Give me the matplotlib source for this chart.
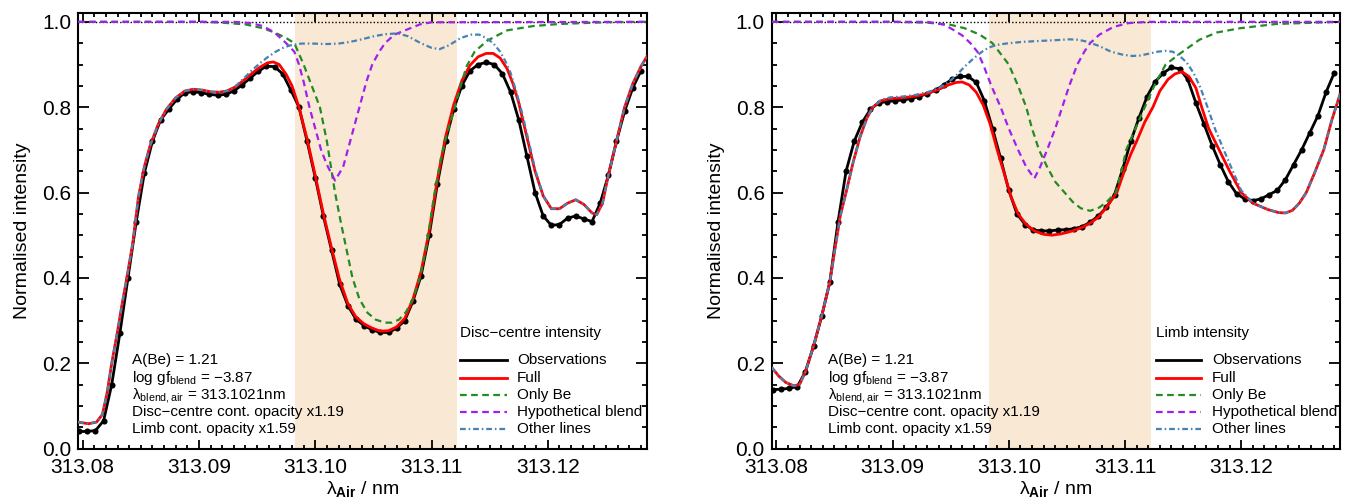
import numpy as np
import matplotlib
matplotlib.use("Agg")
import matplotlib.pyplot as plt
from matplotlib.ticker import MultipleLocator, FormatStrFormatter

plt.rcParams["font.family"] = ["Liberation Sans", "DejaVu Sans"]
plt.rcParams["mathtext.fontset"] = "custom"
plt.rcParams["mathtext.rm"] = "Liberation Sans"
plt.rcParams["mathtext.it"] = "Liberation Sans:italic"
plt.rcParams["mathtext.bf"] = "Liberation Sans:bold"

# ---------------- data ----------------
# observed spectra, sampled every 0.7 pm from 313.0797 nm
obs_wave = 313.0797 + 0.0007 * np.arange(70)
dc_obs = [0.040, 0.040, 0.042, 0.065, 0.150, 0.270, 0.400, 0.530, 0.645, 0.720,
          0.770, 0.795, 0.818, 0.834, 0.836, 0.834, 0.830, 0.828, 0.830, 0.838,
          0.852, 0.868, 0.884, 0.896, 0.895, 0.878, 0.840, 0.800, 0.720, 0.635,
          0.545, 0.465, 0.385, 0.335, 0.303, 0.288, 0.278, 0.272, 0.272, 0.282,
          0.300, 0.345, 0.405, 0.500, 0.620, 0.720, 0.795, 0.850, 0.885, 0.900,
          0.905, 0.900, 0.878, 0.835, 0.770, 0.685, 0.600, 0.545, 0.523, 0.525,
          0.540, 0.545, 0.538, 0.532, 0.575, 0.640, 0.720, 0.790, 0.845, 0.885]
limb_obs = [0.138, 0.139, 0.141, 0.145, 0.180, 0.240, 0.310, 0.390, 0.530, 0.650,
            0.720, 0.765, 0.795, 0.810, 0.813, 0.815, 0.817, 0.820, 0.825, 0.832,
            0.840, 0.852, 0.865, 0.872, 0.872, 0.858, 0.815, 0.750, 0.680, 0.605,
            0.550, 0.525, 0.512, 0.510, 0.510, 0.512, 0.513, 0.515, 0.520, 0.530,
            0.545, 0.565, 0.595, 0.655, 0.720, 0.775, 0.825, 0.860, 0.880, 0.893,
            0.890, 0.865, 0.810, 0.760, 0.710, 0.665, 0.625, 0.597, 0.585, 0.581,
            0.585, 0.595, 0.605, 0.630, 0.665, 0.700, 0.740, 0.780, 0.835, 0.880]

# disc-centre synthetic profiles
dc_full_wave = [313.0796, 313.0805, 313.0812, 313.0817, 313.0821, 313.0825, 313.0830, 313.0834,
                313.0838, 313.0843, 313.0848, 313.0853, 313.0858, 313.0865, 313.0872, 313.0880,
                313.0888, 313.0895, 313.0903, 313.0910, 313.0917, 313.0924, 313.0931, 313.0938,
                313.0945, 313.0952, 313.0959, 313.0964, 313.0969, 313.0975, 313.0980, 313.0986,
                313.0993, 313.1000, 313.1007, 313.1014, 313.1021, 313.1028, 313.1035, 313.1042,
                313.1049, 313.1056, 313.1063, 313.1070, 313.1077, 313.1084, 313.1091, 313.1098,
                313.1105, 313.1112, 313.1119, 313.1126, 313.1133, 313.1140, 313.1147, 313.1153,
                313.1159, 313.1165, 313.1170, 313.1175, 313.1182, 313.1189, 313.1196, 313.1203,
                313.1210, 313.1217, 313.1224, 313.1231, 313.1238, 313.1242, 313.1247, 313.1252,
                313.1259, 313.1266, 313.1273, 313.1280, 313.1285]
dc_full_int = [0.062, 0.058, 0.062, 0.080, 0.130, 0.200, 0.275, 0.340,
               0.400, 0.480, 0.590, 0.660, 0.710, 0.760, 0.795, 0.822,
               0.838, 0.842, 0.840, 0.836, 0.835, 0.838, 0.847, 0.862,
               0.878, 0.893, 0.904, 0.906, 0.900, 0.877, 0.850, 0.800,
               0.725, 0.640, 0.550, 0.470, 0.395, 0.340, 0.308, 0.292,
               0.282, 0.275, 0.276, 0.285, 0.305, 0.350, 0.415, 0.510,
               0.630, 0.730, 0.805, 0.862, 0.898, 0.918, 0.926, 0.926,
               0.915, 0.890, 0.855, 0.810, 0.730, 0.650, 0.592, 0.562,
               0.562, 0.575, 0.583, 0.572, 0.552, 0.548, 0.575, 0.640,
               0.720, 0.800, 0.855, 0.895, 0.918]

dc_other_wave = [313.0796, 313.0805, 313.0812, 313.0817, 313.0821, 313.0825, 313.0830, 313.0834,
                 313.0838, 313.0843, 313.0848, 313.0853, 313.0858, 313.0865, 313.0872, 313.0880,
                 313.0888, 313.0895, 313.0903, 313.0910, 313.0917, 313.0924, 313.0931, 313.0938,
                 313.0945, 313.0952, 313.0959, 313.0966, 313.0973, 313.0980, 313.0988, 313.0998,
                 313.1010, 313.1020, 313.1030, 313.1040, 313.1050, 313.1060, 313.1071, 313.1080,
                 313.1090, 313.1100, 313.1107, 313.1115, 313.1125, 313.1134, 313.1141, 313.1147,
                 313.1153, 313.1159, 313.1164, 313.1168, 313.1173, 313.1178, 313.1184, 313.1189,
                 313.1196, 313.1203, 313.1210, 313.1217, 313.1224, 313.1231, 313.1238, 313.1242,
                 313.1247, 313.1252, 313.1259, 313.1266, 313.1273, 313.1280, 313.1285]
dc_other_int = [0.062, 0.058, 0.062, 0.080, 0.130, 0.200, 0.275, 0.340,
                0.400, 0.480, 0.590, 0.660, 0.710, 0.760, 0.795, 0.822,
                0.838, 0.842, 0.840, 0.836, 0.835, 0.838, 0.848, 0.866,
                0.885, 0.902, 0.917, 0.930, 0.940, 0.946, 0.949, 0.949,
                0.948, 0.949, 0.953, 0.959, 0.966, 0.971, 0.973, 0.966,
                0.951, 0.939, 0.936, 0.945, 0.962, 0.970, 0.970, 0.962,
                0.950, 0.930, 0.905, 0.880, 0.835, 0.785, 0.715, 0.655,
                0.592, 0.562, 0.562, 0.575, 0.583, 0.572, 0.552, 0.548,
                0.575, 0.640, 0.720, 0.800, 0.855, 0.895, 0.918]

dc_be_wave = [313.0796, 313.0900, 313.0920, 313.0940, 313.0955, 313.0965, 313.0975, 313.0982,
              313.0990, 313.0997, 313.1004, 313.1010, 313.1017, 313.1022, 313.1027, 313.1032,
              313.1038, 313.1045, 313.1052, 313.1060, 313.1066, 313.1072, 313.1078, 313.1084,
              313.1090, 313.1096, 313.1102, 313.1108, 313.1114, 313.1119, 313.1125, 313.1130,
              313.1137, 313.1148, 313.1165, 313.1187, 313.1210, 313.1250, 313.1285]
dc_be_int = [1.000, 1.000, 0.998, 0.994, 0.985, 0.975, 0.962, 0.950,
             0.900, 0.850, 0.800, 0.720, 0.600, 0.530, 0.465, 0.400,
             0.350, 0.318, 0.302, 0.295, 0.295, 0.302, 0.320, 0.350,
             0.400, 0.480, 0.590, 0.680, 0.745, 0.790, 0.850, 0.895,
             0.930, 0.956, 0.980, 0.990, 0.995, 0.999, 1.000]

dc_blend_wave = [313.0796, 313.0930, 313.0945, 313.0955, 313.0965, 313.0975, 313.0982, 313.0986,
                 313.0990, 313.0995, 313.1000, 313.1005, 313.1010, 313.1017, 313.1024, 313.1028,
                 313.1033, 313.1038, 313.1044, 313.1049, 313.1055, 313.1060, 313.1068, 313.1079,
                 313.1090, 313.1100, 313.1285]
dc_blend_int = [1.000, 1.000, 0.997, 0.990, 0.975, 0.950, 0.930, 0.900,
                0.860, 0.800, 0.750, 0.700, 0.665, 0.628, 0.660, 0.700,
                0.750, 0.800, 0.860, 0.900, 0.930, 0.950, 0.970, 0.982,
                0.994, 0.999, 1.000]

# limb synthetic profiles
limb_full_wave = [313.0796, 313.0802, 313.0808, 313.0815, 313.0820, 313.0825, 313.0832, 313.0839,
                  313.0846, 313.0850, 313.0855, 313.0860, 313.0866, 313.0872, 313.0878, 313.0883,
                  313.0890, 313.0898, 313.0909, 313.0920, 313.0930, 313.0940, 313.0948, 313.0955,
                  313.0960, 313.0966, 313.0972, 313.0978, 313.0984, 313.0990, 313.0996, 313.1002,
                  313.1008, 313.1015, 313.1022, 313.1030, 313.1037, 313.1045, 313.1055, 313.1063,
                  313.1070, 313.1077, 313.1084, 313.1093, 313.1100, 313.1105, 313.1110, 313.1117,
                  313.1124, 313.1130, 313.1137, 313.1143, 313.1149, 313.1155, 313.1161, 313.1166,
                  313.1172, 313.1181, 313.1190, 313.1200, 313.1210, 313.1223, 313.1232, 313.1238,
                  313.1244, 313.1250, 313.1256, 313.1263, 313.1271, 313.1278, 313.1285]
limb_full_int = [0.190, 0.170, 0.155, 0.147, 0.150, 0.180, 0.240, 0.310,
                 0.390, 0.460, 0.545, 0.600, 0.670, 0.730, 0.775, 0.800,
                 0.815, 0.820, 0.822, 0.826, 0.832, 0.842, 0.852, 0.858,
                 0.859, 0.852, 0.835, 0.805, 0.760, 0.700, 0.645, 0.590,
                 0.550, 0.525, 0.510, 0.502, 0.500, 0.503, 0.510, 0.518,
                 0.528, 0.542, 0.565, 0.600, 0.655, 0.690, 0.720, 0.765,
                 0.800, 0.838, 0.865, 0.878, 0.883, 0.872, 0.845, 0.800,
                 0.750, 0.700, 0.650, 0.600, 0.575, 0.560, 0.553, 0.552,
                 0.558, 0.575, 0.600, 0.645, 0.700, 0.770, 0.830]

limb_other_wave = [313.0796, 313.0802, 313.0808, 313.0815, 313.0820, 313.0825, 313.0832, 313.0839,
                   313.0846, 313.0850, 313.0855, 313.0860, 313.0866, 313.0872, 313.0878, 313.0883,
                   313.0890, 313.0898, 313.0909, 313.0920, 313.0930, 313.0940, 313.0948, 313.0955,
                   313.0962, 313.0970, 313.0977, 313.0983, 313.0990, 313.1000, 313.1012, 313.1025,
                   313.1040, 313.1052, 313.1060, 313.1068, 313.1078, 313.1088, 313.1098, 313.1106,
                   313.1113, 313.1120, 313.1128, 313.1135, 313.1141, 313.1147, 313.1153, 313.1159,
                   313.1165, 313.1171, 313.1178, 313.1185, 313.1192, 313.1200, 313.1210, 313.1223,
                   313.1232, 313.1238, 313.1244, 313.1250, 313.1256, 313.1263, 313.1271, 313.1278,
                   313.1285]
limb_other_int = [0.190, 0.170, 0.155, 0.147, 0.150, 0.180, 0.240, 0.310,
                  0.390, 0.460, 0.545, 0.600, 0.670, 0.730, 0.775, 0.800,
                  0.817, 0.823, 0.825, 0.829, 0.835, 0.845, 0.858, 0.875,
                  0.895, 0.915, 0.930, 0.940, 0.946, 0.950, 0.953, 0.955,
                  0.957, 0.959, 0.958, 0.953, 0.943, 0.930, 0.923, 0.920,
                  0.921, 0.925, 0.930, 0.932, 0.930, 0.920, 0.905, 0.880,
                  0.845, 0.800, 0.745, 0.700, 0.655, 0.605, 0.575, 0.560,
                  0.553, 0.552, 0.558, 0.575, 0.600, 0.645, 0.700, 0.770,
                  0.830]

limb_be_wave = [313.0796, 313.0900, 313.0930, 313.0950, 313.0962, 313.0975, 313.0986, 313.0993,
                313.1000, 313.1008, 313.1015, 313.1020, 313.1026, 313.1033, 313.1040, 313.1048,
                313.1055, 313.1062, 313.1070, 313.1078, 313.1085, 313.1092, 313.1097, 313.1101,
                313.1109, 313.1117, 313.1126, 313.1135, 313.1147, 313.1164, 313.1179, 313.1199,
                313.1230, 313.1285]
limb_be_int = [1.000, 1.000, 0.998, 0.993, 0.985, 0.970, 0.950, 0.925,
               0.900, 0.850, 0.800, 0.750, 0.700, 0.660, 0.625, 0.600,
               0.578, 0.563, 0.557, 0.565, 0.580, 0.600, 0.650, 0.700,
               0.750, 0.800, 0.855, 0.900, 0.925, 0.958, 0.975, 0.985,
               0.995, 1.000]

limb_blend_wave = [313.0796, 313.0930, 313.0945, 313.0953, 313.0960, 313.0967, 313.0973, 313.0978,
                   313.0985, 313.0993, 313.1000, 313.1008, 313.1015, 313.1022, 313.1027, 313.1033,
                   313.1040, 313.1046, 313.1052, 313.1059, 313.1065, 313.1070, 313.1078, 313.1090,
                   313.1103, 313.1120, 313.1285]
limb_blend_int = [1.000, 1.000, 0.993, 0.980, 0.968, 0.950, 0.930, 0.900,
                  0.850, 0.800, 0.750, 0.700, 0.660, 0.633, 0.660, 0.700,
                  0.750, 0.800, 0.850, 0.900, 0.930, 0.950, 0.970, 0.988,
                  0.997, 1.000, 1.000]

# wavelength window used for the fit
fit_window = (313.0983, 313.1122)

legend_labels = ["Observations", "Full", "Only Be", "Hypothetical blend", "Other lines"]
info_lines = ["A(Be) = 1.21",
              "log gf$_{\\mathregular{blend}}$ = \u22123.87",
              "\u03bb$_{\\mathregular{blend,air}}$ = 313.1021nm",
              "Disc\u2212centre cont. opacity x1.19",
              "Limb cont. opacity x1.59"]

panels = [
    dict(title="Disc\u2212centre intensity", obs=dc_obs,
         full=(dc_full_wave, dc_full_int), other=(dc_other_wave, dc_other_int),
         be=(dc_be_wave, dc_be_int), blend=(dc_blend_wave, dc_blend_int),
         rect=[78 / 1349, 52.5 / 501, 568.7 / 1349, 435.2 / 501],
         info_x=0.0956, leg_x=(0.672, 0.754, 0.772)),
    dict(title="Limb intensity", obs=limb_obs,
         full=(limb_full_wave, limb_full_int), other=(limb_other_wave, limb_other_int),
         be=(limb_be_wave, limb_be_int), blend=(limb_blend_wave, limb_blend_int),
         rect=[771.7 / 1349, 52.5 / 501, 568.3 / 1349, 435.2 / 501],
         info_x=0.0996, leg_x=(0.676, 0.756, 0.775)),
]

# ---------------- styles ----------------
C_RED = "#ff0000"
C_GREEN = "#228b22"
C_PURPLE = "#a020f0"
C_BLUE = "#4682b4"
C_SHADE = "#f8e8d4"
LW = 2.0
style_obs = dict(color="black", lw=LW, marker="o", ms=4.4, mew=0)
style_full = dict(color=C_RED, lw=LW)
style_be = dict(color=C_GREEN, lw=1.6, dashes=(3, 2))
style_blend = dict(color=C_PURPLE, lw=1.6, dashes=(3, 2))
style_other = dict(color=C_BLUE, lw=1.6, dashes=(2.6, 1.3, 0.7, 1.3))

row_y = [0.2034, 0.1627, 0.1229, 0.0832, 0.0448]
title_y = 0.2647

fig = plt.figure(figsize=(13.49, 5.01), dpi=100)

for p in panels:
    ax = fig.add_axes(p["rect"])
    ax.axvspan(*fit_window, color=C_SHADE, lw=0, zorder=0)
    ax.axhline(1.0, color="black", lw=1.0, ls=(0, (1, 1.5)), zorder=1)

    ax.plot(obs_wave, p["obs"], zorder=3, **style_obs)
    ax.plot(*p["full"], zorder=4, **style_full)
    ax.plot(*p["be"], zorder=5, **style_be)
    ax.plot(*p["blend"], zorder=6, **style_blend)
    ax.plot(*p["other"], zorder=7, **style_other)

    ax.set_xlim(313.0796, 313.1285)
    ax.set_ylim(0.0, 1.02)
    ax.xaxis.set_major_locator(MultipleLocator(0.01))
    ax.xaxis.set_minor_locator(MultipleLocator(0.001))
    ax.yaxis.set_major_locator(MultipleLocator(0.2))
    ax.yaxis.set_minor_locator(MultipleLocator(0.05))
    ax.xaxis.set_major_formatter(FormatStrFormatter("%.2f"))
    ax.yaxis.set_major_formatter(FormatStrFormatter("%.1f"))
    ax.tick_params(which="both", direction="in", top=True, right=True, width=1.3,
                   labelsize=15)
    ax.tick_params(axis="x", which="major", length=6.5, pad=7)
    ax.tick_params(axis="x", which="minor", length=3)
    ax.tick_params(axis="y", which="major", length=8, pad=5)
    ax.tick_params(axis="y", which="minor", length=3.5)
    for s in ax.spines.values():
        s.set_linewidth(1.5)

    ax.set_ylabel("Normalised intensity", fontsize=14)
    ax.yaxis.set_label_coords(-0.082, 0.5)
    ax.set_xlabel("\u03bb$_{\\mathbf{Air}}$ / nm", fontsize=14)
    ax.xaxis.set_label_coords(0.5, -0.07)

    for txt, y in zip(info_lines, row_y):
        ax.text(p["info_x"], y, txt, transform=ax.transAxes, fontsize=11,
                ha="left", va="center", zorder=9)

    x0, x1, xt = p["leg_x"]
    ax.text(x0, title_y, p["title"], transform=ax.transAxes, fontsize=11,
            ha="left", va="center", zorder=9)
    styles = [dict(color="black", lw=LW), style_full, style_be, style_blend, style_other]
    for lab, st, y in zip(legend_labels, styles, row_y):
        ax.plot([x0, x1], [y, y], transform=ax.transAxes, zorder=9, **st)
        ax.text(xt, y, lab, transform=ax.transAxes, fontsize=11,
                ha="left", va="center", zorder=9)

fig.savefig("out.png", dpi=100)
